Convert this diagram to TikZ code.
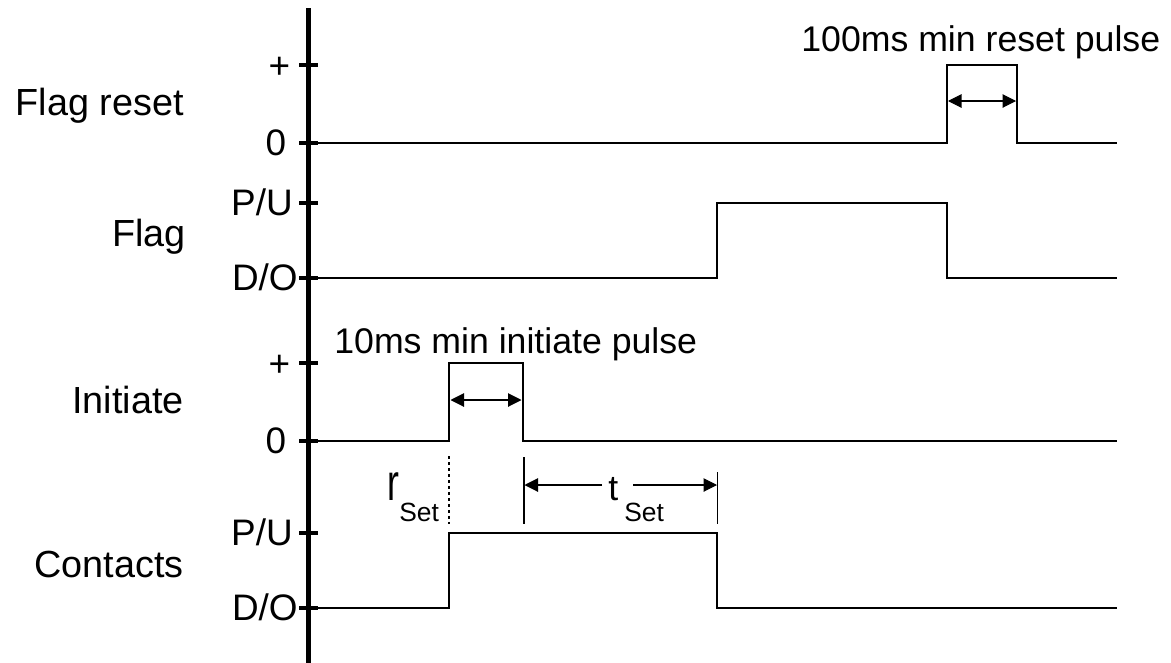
\documentclass[tikz,border=0pt]{standalone}
\usepackage{fontspec}
\setmainfont{Liberation Sans}
\usetikzlibrary{arrows.meta}
\begin{document}
\begin{tikzpicture}[x=0.02cm,y=-0.02cm,
  sig/.style={line width=1.1pt, line join=miter},
  axisline/.style={line width=2.9pt},
  tickmark/.style={line width=2.5pt},
  lbl/.style={anchor=base east, inner sep=0pt, font=\fontsize{21.5}{24}\selectfont},
  ticklbl/.style={anchor=base east, inner sep=0pt, font=\fontsize{21}{24}\selectfont},
  note/.style={anchor=base west, inner sep=0pt, font=\fontsize{20.3}{24}\selectfont},
  subnote/.style={anchor=base west, inner sep=0pt, font=\fontsize{15}{18}\selectfont},
  dimline/.style={line width=0.6pt},
  dimarrow/.style={line width=0.6pt, -{Triangle[length=0.27cm,width=0.27cm]}},
  dimboth/.style={line width=0.6pt, {Triangle[length=0.27cm,width=0.27cm]}-{Triangle[length=0.27cm,width=0.27cm]}},
  dotline/.style={line width=0.9pt, dash pattern=on 0.06cm off 0.06cm}]
\useasboundingbox (0,0) rectangle (1171,663);

% axis
\draw[axisline] (308.5,8) -- (308.5,663);
\foreach \yy in {65,143,203,278,363,441,533,608}
  \draw[tickmark] (299,\yy) -- (318,\yy);

% row labels
\node[lbl] (lflagreset) at (184,115) {Flag reset};
\node[lbl] (lflag) at (186,246) {Flag};
\node[lbl] (linit) at (184,413) {Initiate};
\node[lbl] (lcont) at (184,577) {Contacts};

% tick labels
\node[ticklbl] (t1) at (290.5,78) {+};
\node[ticklbl] (t2) at (286.5,155) {0};
\node[ticklbl] (t3) at (293,215) {P/U};
\node[ticklbl] (t4) at (298,290) {D/O};
\node[ticklbl] (t5) at (290.5,376) {+};
\node[ticklbl] (t6) at (286.5,453) {0};
\node[ticklbl] (t7) at (293,545) {P/U};
\node[ticklbl] (t8) at (298,620) {D/O};

% signals
\draw[sig] (309,143) -- (947,143) -- (947,65) -- (1017,65) -- (1017,143) -- (1117,143);
\draw[sig] (309,278) -- (717,278) -- (717,203) -- (947,203) -- (947,278) -- (1117,278);
\draw[sig] (309,441) -- (449,441) -- (449,363) -- (523,363) -- (523,441) -- (1117,441);
\draw[sig] (309,608) -- (449,608) -- (449,533) -- (717,533) -- (717,608) -- (1117,608);

% reset pulse annotation
\coordinate (ra) at (948,101);
\coordinate (rb) at (1016,101);
\draw[dimboth] (ra) -- (rb);
\node[note] (nreset) at (801,51) {100ms min reset pulse};

% initiate pulse annotation
\coordinate (ia) at (450.5,400);
\coordinate (ib) at (521.5,400);
\draw[dimboth] (ia) -- (ib);
\node[note] (ninit) at (334,353) {10ms min initiate pulse};

% r_Set
\coordinate (dtop) at (449,456);
\coordinate (dbot) at (449,524);
\draw[dotline] (dtop) -- (dbot);
\node[note] (rr) at (387,500) {\scalebox{1}[1.45]{r}};
\node[subnote] (rsub) at (399,521) {Set};

% t_Set
\coordinate (la) at (524,457);
\coordinate (lb) at (524,524);
\coordinate (ma) at (717.5,472);
\coordinate (mb) at (717.5,524);
\draw[dimline] (la) -- (lb);
\draw[dimline] (ma) -- (mb);
\coordinate (al0) at (602,485);
\coordinate (al1) at (524.5,485);
\coordinate (ar0) at (633,485);
\coordinate (ar1) at (717,485);
\draw[dimarrow] (al0) -- (al1);
\draw[dimarrow] (ar0) -- (ar1);
\node[note] (tt) at (608,500) {t};
\node[subnote] (tsub) at (624,521) {Set};
\end{tikzpicture}
\end{document}
